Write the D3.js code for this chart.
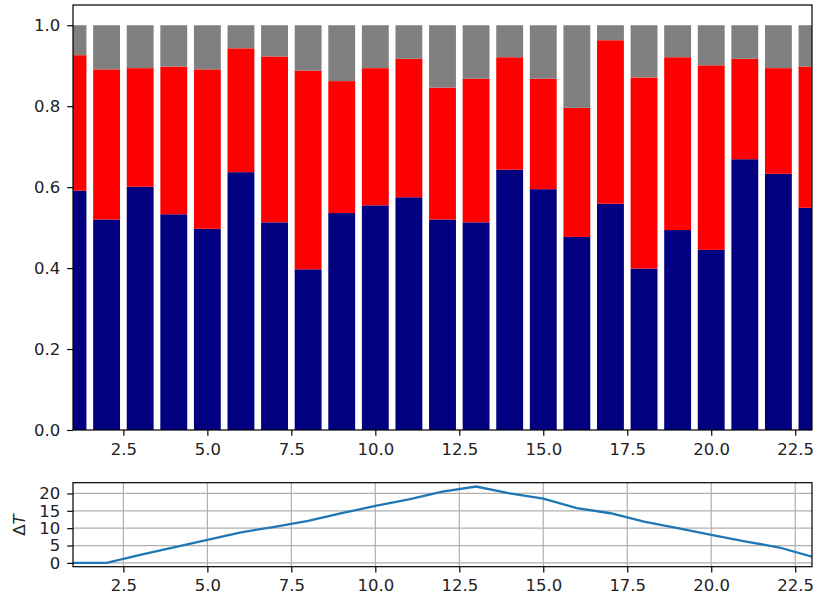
<!DOCTYPE html>
<html>
<head>
<meta charset="utf-8" />
<title>stacked fractions</title>
<style>
html, body {
    margin: 0px;
    padding: 0px;
    background: white;
}
svg {
    font-family: "DejaVu Sans", sans-serif;
}
</style>
</head>
<body>
<svg id="chart" width="815" height="601"></svg>

<script src="https://d3js.org/d3.v7.min.js"></script>
<script>
// data
var steps = d3.range(1, 24)
var blue = [0.591, 0.520, 0.601, 0.533, 0.497, 0.637, 0.513, 0.397, 0.536, 0.555, 0.575, 0.520,
            0.513, 0.643, 0.595, 0.477, 0.559, 0.399, 0.494, 0.445, 0.669, 0.633, 0.549]
var redTop = [0.926, 0.891, 0.894, 0.898, 0.891, 0.943, 0.923, 0.888, 0.862, 0.894, 0.917, 0.846,
              0.868, 0.921, 0.868, 0.796, 0.963, 0.871, 0.921, 0.901, 0.917, 0.894, 0.898]
var deltaT = [0, 0, 2.3, 4.5, 6.6, 8.8, 10.4, 12.1, 14.3, 16.4, 18.3, 20.5,
              22.0, 20.0, 18.5, 15.8, 14.3, 11.9, 10.0, 8.1, 6.2, 4.5, 1.8]
var xTicks = [2.5, 5, 7.5, 10, 12.5, 15, 17.5, 20, 22.5]
var topYTicks = [0, 0.2, 0.4, 0.6, 0.8, 1.0]
var botYTicks = [0, 5, 10, 15, 20]

var svg = d3.select("#chart")
var left = 73, right = 812
var fontSize = "16.5px"

var x = d3.scaleLinear().domain([1, 23]).range([left, right])
var yTop = d3.scaleLinear().domain([0, 1.05]).range([430, 5])
var yBot = d3.scaleLinear().domain([-1.1, 23.1]).range([566.7, 482.7])

var barW = x(1.8) - x(1)

svg.append("clipPath").attr("id", "clipTop")
    .append("rect").attr("x", left).attr("y", 5).attr("width", right - left).attr("height", 425)
svg.append("clipPath").attr("id", "clipBot")
    .append("rect").attr("x", left).attr("y", 482.7).attr("width", right - left).attr("height", 84)

drawTop()
drawBottom()

function styleAxis(g) {
    // d3 puts font-family=sans-serif on the group, undo that
    g.attr("font-family", "DejaVu Sans").attr("font-size", fontSize)
    g.selectAll(".domain").remove()
    g.selectAll(".tick line").attr("stroke", "#000").attr("stroke-width", 1.2)
    g.selectAll(".tick text").attr("fill", "#222")
}

function xAxis() {
    return d3.axisBottom(x).tickValues(xTicks).tickFormat(d3.format(".1f")).tickSize(5.8).tickPadding(7)
}

function drawTop() {
    var bars = svg.append("g").attr("clip-path", "url(#clipTop)")
    var layers = [
        {lo: function(i){ return 0 }, hi: function(i){ return blue[i] }, color: "#000080"},
        {lo: function(i){ return blue[i] }, hi: function(i){ return redTop[i] }, color: "#ff0000"},
        {lo: function(i){ return redTop[i] }, hi: function(i){ return 1 }, color: "#808080"}
    ]
    layers.forEach(function(l) {
        bars.selectAll(null)
            .data(steps)
            .enter().append("rect")
            .attr("x", function(d){ return x(d) - barW / 2 })
            .attr("width", barW)
            .attr("y", function(d, i){ return yTop(l.hi(i)) })
            .attr("height", function(d, i){ return yTop(l.lo(i)) - yTop(l.hi(i)) })
            .attr("fill", l.color)
    })

    svg.append("g")
        .attr("transform", "translate(0,430)")
        .call(xAxis())
        .call(styleAxis)

    svg.append("g")
        .attr("transform", "translate(" + left + ",0)")
        .call(d3.axisLeft(yTop).tickValues(topYTicks).tickFormat(d3.format(".1f")).tickSize(5.8).tickPadding(7))
        .call(styleAxis)

    svg.append("rect")
        .attr("x", left).attr("y", 5).attr("width", right - left).attr("height", 425)
        .attr("fill", "none").attr("stroke", "#000").attr("stroke-width", 1.2)
}

function drawBottom() {
    var grid = svg.append("g")
    grid.selectAll(null).data(xTicks).enter().append("line")
        .attr("x1", function(d){ return x(d) }).attr("x2", function(d){ return x(d) })
        .attr("y1", 482.7).attr("y2", 566.7)
        .attr("stroke", "#b0b0b0").attr("stroke-width", 1.2)
    grid.selectAll(null).data(botYTicks).enter().append("line")
        .attr("x1", left).attr("x2", right)
        .attr("y1", function(d){ return yBot(d) }).attr("y2", function(d){ return yBot(d) })
        .attr("stroke", "#b0b0b0").attr("stroke-width", 1.2)

    var line = d3.line()
        .x(function(d, i){ return x(steps[i]) })
        .y(function(d){ return yBot(d) })

    svg.append("g").attr("clip-path", "url(#clipBot)")
        .append("path")
        .datum(deltaT)
        .attr("d", line)
        .attr("fill", "none")
        .attr("stroke", "#1f77b4")
        .attr("stroke-width", 2.3)

    svg.append("g")
        .attr("transform", "translate(0,566.7)")
        .call(xAxis())
        .call(styleAxis)

    svg.append("g")
        .attr("transform", "translate(" + left + ",0)")
        .call(d3.axisLeft(yBot).tickValues(botYTicks).tickFormat(d3.format("d")).tickSize(5.8).tickPadding(7))
        .call(styleAxis)

    svg.append("rect")
        .attr("x", left).attr("y", 482.7).attr("width", right - left).attr("height", 84)
        .attr("fill", "none").attr("stroke", "#000").attr("stroke-width", 1.2)

    var lab = svg.append("text")
        .attr("transform", "translate(25,525) rotate(-90)")
        .attr("text-anchor", "middle")
        .attr("font-size", fontSize)
        .attr("fill", "#222")
    lab.append("tspan").text("Δ")
    lab.append("tspan").attr("font-style", "italic").text("T")
}
</script>
</body>
</html>
